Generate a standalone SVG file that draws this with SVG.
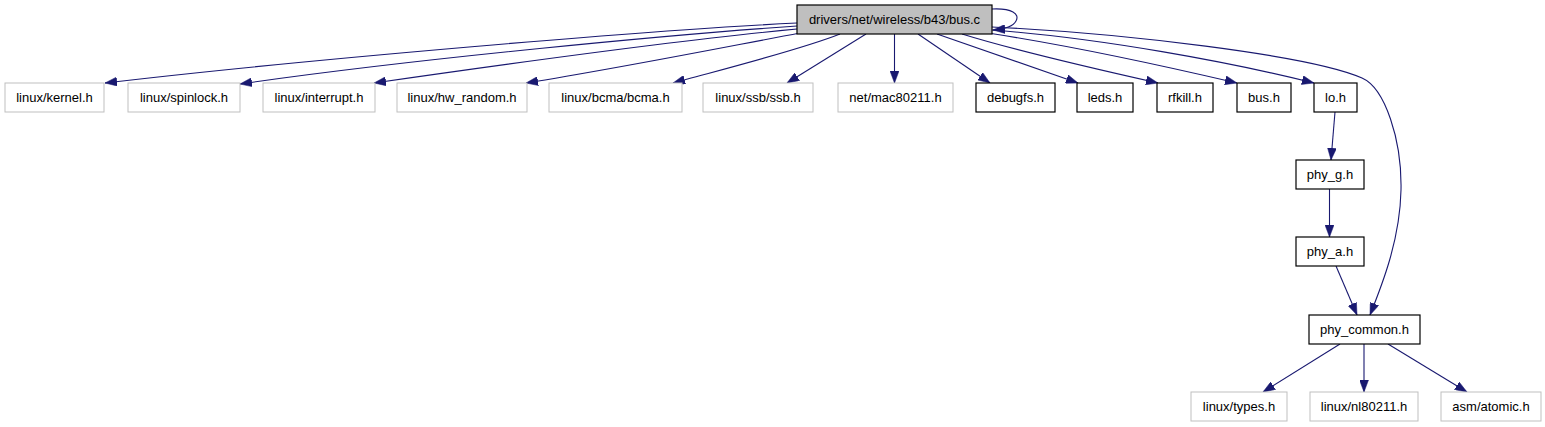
<svg xmlns="http://www.w3.org/2000/svg" width="1545" height="427" viewBox="0 0 1545 427">
<style>
.ext rect{fill:#ffffff;stroke:#bfbfbf;stroke-width:1}
.loc rect{fill:#ffffff;stroke:#000000;stroke-width:1.2}
.root rect{fill:#bfbfbf;stroke:#000000;stroke-width:1.2}
text{font-family:"Liberation Sans",Arial,sans-serif;font-size:13px;fill:#000000;text-anchor:middle}
#edges path{fill:none;stroke:#191970;stroke-width:1.1;marker-end:url(#arr)}
</style>
<defs>
<marker id="arr" markerUnits="userSpaceOnUse" markerWidth="12" markerHeight="9" viewBox="0 0 12 9" refX="12" refY="4.5" orient="auto">
<path d="M0,0 L12,4.5 L0,9 Z" fill="#191970" stroke="#191970" stroke-width="0.5"/>
</marker>
</defs>
<rect x="0" y="0" width="1545" height="427" fill="#ffffff"/>
<g id="edges">
<path d="M797,23 C650,30 300,60 105,83"/>
<path d="M797,26 C680,34 420,58 240,84"/>
<path d="M797,29 C700,38 520,62 374,83"/>
<path d="M800,33 C720,48 620,68 526,83"/>
<path d="M840,34 C800,50 720,70 673,83"/>
<path d="M866,34 L787,83"/>
<path d="M894.5,34 L894.5,83"/>
<path d="M918,34 L990,83"/>
<path d="M937,34 L1078,83"/>
<path d="M962,34 C1020,52 1100,70 1158,83"/>
<path d="M988,33 C1060,44 1160,65 1237,83"/>
<path d="M992,30 C1100,38 1230,62 1314,83"/>
<path d="M992,27 C1120,33 1310,55 1362,78 C1385,88 1402,140 1401,190 C1400,240 1382,285 1370,315"/>
<path d="M992,9 C1012,8 1020,14 1016,21 C1013,27 1005,29 993,30"/>
<path d="M1335,112 L1331,160"/>
<path d="M1329.5,189 L1329.5,237"/>
<path d="M1336,266 L1357,315"/>
<path d="M1340,344 L1263,392"/>
<path d="M1364,344 L1364,392"/>
<path d="M1388,344 L1467,392"/>
</g>
<g id="node-root" class="root"><rect x="797" y="5" width="195" height="29"/><text x="894.5" y="24">drivers/net/wireless/b43/bus.c</text></g>
<g id="node-kernel" class="ext"><rect x="5" y="83" width="99" height="29"/><text x="54.5" y="102">linux/kernel.h</text></g>
<g id="node-spinlock" class="ext"><rect x="128" y="83" width="112" height="29"/><text x="184" y="102">linux/spinlock.h</text></g>
<g id="node-interrupt" class="ext"><rect x="263" y="83" width="112" height="29"/><text x="319" y="102">linux/interrupt.h</text></g>
<g id="node-hwrandom" class="ext"><rect x="397" y="83" width="130" height="29"/><text x="462" y="102">linux/hw_random.h</text></g>
<g id="node-bcma" class="ext"><rect x="549" y="83" width="133" height="29"/><text x="615.5" y="102">linux/bcma/bcma.h</text></g>
<g id="node-ssb" class="ext"><rect x="703" y="83" width="110" height="29"/><text x="758" y="102">linux/ssb/ssb.h</text></g>
<g id="node-mac80211" class="ext"><rect x="838" y="83" width="115" height="29"/><text x="895.5" y="102">net/mac80211.h</text></g>
<g id="node-debugfs" class="loc"><rect x="976" y="83" width="79" height="29"/><text x="1015.5" y="102">debugfs.h</text></g>
<g id="node-leds" class="loc"><rect x="1077" y="83" width="56" height="29"/><text x="1105" y="102">leds.h</text></g>
<g id="node-rfkill" class="loc"><rect x="1157" y="83" width="56" height="29"/><text x="1185" y="102">rfkill.h</text></g>
<g id="node-bus" class="loc"><rect x="1237" y="83" width="54" height="29"/><text x="1264" y="102">bus.h</text></g>
<g id="node-lo" class="loc"><rect x="1314" y="83" width="43" height="29"/><text x="1335.5" y="102">lo.h</text></g>
<g id="node-phyg" class="loc"><rect x="1296" y="160" width="68" height="29"/><text x="1330" y="179">phy_g.h</text></g>
<g id="node-phya" class="loc"><rect x="1296" y="237" width="68" height="29"/><text x="1330" y="256">phy_a.h</text></g>
<g id="node-phycommon" class="loc"><rect x="1309" y="315" width="111" height="29"/><text x="1364.5" y="334">phy_common.h</text></g>
<g id="node-types" class="ext"><rect x="1191" y="392" width="96" height="29"/><text x="1239" y="411">linux/types.h</text></g>
<g id="node-nl80211" class="ext"><rect x="1310" y="392" width="108" height="29"/><text x="1364" y="411">linux/nl80211.h</text></g>
<g id="node-atomic" class="ext"><rect x="1441" y="392" width="100" height="29"/><text x="1491" y="411">asm/atomic.h</text></g>
</svg>
